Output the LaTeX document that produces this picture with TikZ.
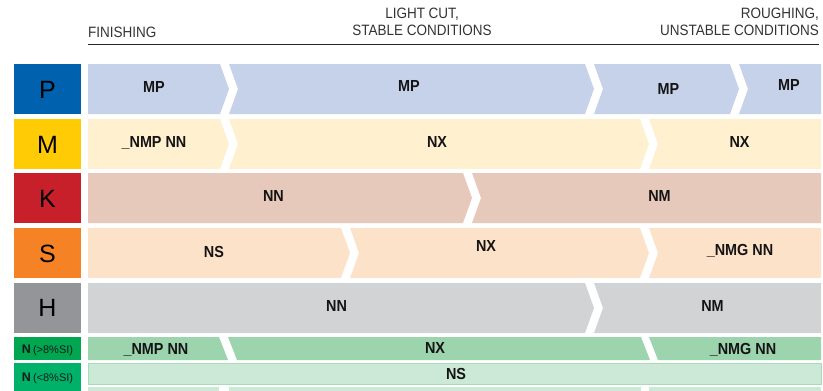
\documentclass[tikz,border=0pt]{standalone}
\usepackage{fontspec}
\setmainfont{Liberation Sans}
\newfontfamily\condfont[FakeStretch=0.9]{Liberation Sans}
\definecolor{Pcol}{HTML}{0061AF}\definecolor{Pbar}{HTML}{C6D1EA}
\definecolor{Mcol}{HTML}{FFCB05}\definecolor{Mbar}{HTML}{FFF0CF}
\definecolor{Kcol}{HTML}{C8202A}\definecolor{Kbar}{HTML}{E6C9BB}
\definecolor{Scol}{HTML}{F58224}\definecolor{Sbar}{HTML}{FDE2CA}
\definecolor{Hcol}{HTML}{939598}\definecolor{Hbar}{HTML}{D1D3D4}
\definecolor{NAcol}{HTML}{00A650}\definecolor{NAbar}{HTML}{9CD4AE}
\definecolor{NBcol}{HTML}{00B16A}\definecolor{NBbar}{HTML}{CCE8D6}
\definecolor{NBline}{HTML}{A9DBB9}
\definecolor{hdrtext}{HTML}{333333}
\newcommand\chevseg[7]{\fill[#1] (#2,#4) -- (#3,#4) -- ({#3+#7},{(#4+#5)/2}) -- (#3,#5) -- (#2,#5) -- ({#2+#6},{(#4+#5)/2}) -- cycle;}
\newcommand\nsubtext[1]{{\mdseries\fontsize{11}{11}\selectfont #1}}
\begin{document}
\begin{tikzpicture}[x=1pt,y=-1pt,
  matbox/.style={inner sep=0pt, minimum width=67pt, text=black,
    font=\fontsize{25}{25}\selectfont, text height=18pt, text depth=0pt},
  nbox/.style={inner sep=0pt, minimum width=67pt, text=black!90,
    font=\bfseries\fontsize{12.5}{12.5}\selectfont, text height=9pt, text depth=0pt},
  barlbl/.style={inner sep=0pt, text=black!92,
    font=\condfont\bfseries\fontsize{16}{16}\selectfont, text height=11.5pt, text depth=0pt},
  hdr/.style={inner sep=0pt, text=hdrtext, font=\condfont\fontsize{15}{17}\selectfont}
]
\useasboundingbox (0,0) rectangle (823,391);

% header
\node[hdr, anchor=base west] (fin) at (88,37) {FINISHING};
\node[hdr, anchor=base] (lc1) at (422,18) {LIGHT CUT,};
\node[hdr, anchor=base] (lc2) at (422,35) {STABLE CONDITIONS};
\node[hdr, anchor=base east] (ro1) at (819,18) {ROUGHING,};
\node[hdr, anchor=base east] (ro2) at (819,35) {UNSTABLE CONDITIONS};
\coordinate (hl) at (88,44.7);
\coordinate (hr) at (819,44.7);
\draw[line width=1pt, black!85] (hl) -- (hr);

% material boxes
\node[matbox, fill=Pcol, minimum height=50pt] (P) at (47.5,89) {P};
\node[matbox, fill=Mcol, minimum height=50pt] (M) at (47.5,144) {M};
\node[matbox, fill=Kcol, minimum height=50pt] (K) at (47.5,198) {K};
\node[matbox, fill=Scol, minimum height=50pt] (S) at (47.5,253) {S};
\node[matbox, fill=Hcol, minimum height=50pt] (H) at (47.5,307.5) {H};
\node[nbox, fill=NAcol, minimum height=23pt] (NA) at (47.5,348.5) {N\,\nsubtext{(>8\%SI)}};
\node[nbox, fill=NBcol, minimum height=28pt] (NB) at (47.5,377) {N\,\nsubtext{(<8\%SI)}};

% P row
\chevseg{Pbar}{88}{220}{64}{114}{0}{9}
\chevseg{Pbar}{229}{585}{64}{114}{9}{9}
\chevseg{Pbar}{594}{730}{64}{114}{9}{9}
\chevseg{Pbar}{739}{821}{64}{114}{9}{0}
% M row
\chevseg{Mbar}{88}{220}{119}{169}{0}{9}
\chevseg{Mbar}{229}{640}{119}{169}{9}{9}
\chevseg{Mbar}{649}{821}{119}{169}{9}{0}
% K row
\chevseg{Kbar}{88}{463}{173}{223}{0}{9}
\chevseg{Kbar}{472}{821}{173}{223}{9}{0}
% S row
\chevseg{Sbar}{88}{341}{228}{278}{0}{9}
\chevseg{Sbar}{350}{640}{228}{278}{9}{9}
\chevseg{Sbar}{649}{821}{228}{278}{9}{0}
% H row
\chevseg{Hbar}{88}{585}{283}{333}{0}{9}
\chevseg{Hbar}{594}{821}{283}{333}{9}{0}
% N (>8%SI) row
\fill[NAbar] (88,337) -- (219,337) -- (228,360) -- (88,360) -- cycle;
\fill[NAbar] (228,337) -- (641,337) -- (650,360) -- (237,360) -- cycle;
\fill[NAbar] (649,337) -- (821,337) -- (821,360) -- (658,360) -- cycle;
% N (<8%SI) row
\filldraw[fill=NBbar, draw=NBline, line width=0.8pt] (88.4,363.4) rectangle (821,384.6);
\fill[NBbar] (88,386.5) rectangle (219,391);
\fill[NBbar] (229,386.5) rectangle (641,391);
\fill[NBbar] (649,386.5) rectangle (821,391);

% bar labels
\node[barlbl] (p1) at (154,87) {MP};
\node[barlbl] (p2) at (409,86) {MP};
\node[barlbl] (p3) at (668.5,88.5) {MP};
\node[barlbl] (p4) at (789,85) {MP};
\node[barlbl] (m1) at (154,141.5) {\_NMP NN};
\node[barlbl] (m2) at (437,141.5) {NX};
\node[barlbl] (m3) at (739.5,141.5) {NX};
\node[barlbl] (k1) at (273.5,195.5) {NN};
\node[barlbl] (k2) at (659.5,195.5) {NM};
\node[barlbl] (s1) at (214,252) {NS};
\node[barlbl] (s2) at (486,246) {NX};
\node[barlbl] (s3) at (740,249.5) {\_NMG NN};
\node[barlbl] (h1) at (336.5,306) {NN};
\node[barlbl] (h2) at (712.5,306) {NM};
\node[barlbl] (na1) at (156,349) {\_NMP NN};
\node[barlbl] (na2) at (435,347.5) {NX};
\node[barlbl] (na3) at (743,349) {\_NMG NN};
\node[barlbl] (nb1) at (456,374) {NS};
\end{tikzpicture}
\end{document}
